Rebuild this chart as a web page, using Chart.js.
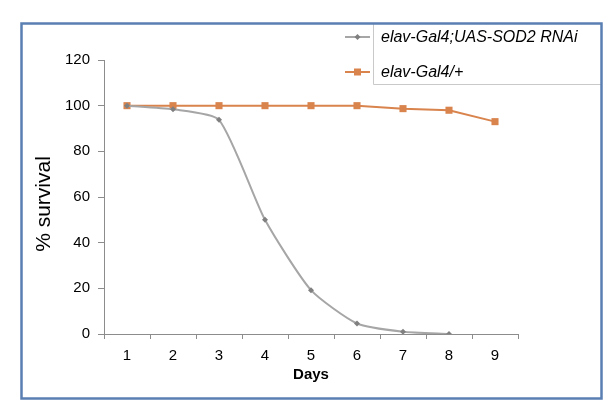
<!DOCTYPE html>
<html>
<head>
<meta charset="utf-8">
<script src="https://cdn.jsdelivr.net/npm/chart.js@4"></script>
<style>
html,body{margin:0;padding:0;background:#fff;}
#wrap{width:616px;height:416px;}
</style>
</head>
<body>
<div id="wrap"><canvas id="c" width="616" height="416"></canvas></div>
<script>
const days = ['1','2','3','4','5','6','7','8','9'];
const rnaiLabel = 'elav-Gal4;UAS-SOD2 RNAi';
const ctrlLabel = 'elav-Gal4/+';
const yTitle = '% survival';
const xTitle = 'Days';
const rnaiSurvival = [100, 98.4, 93.8, 50, 19.2, 4.6, 1.0, 0, null];
const ctrlSurvival = [100, 100, 100, 100, 100, 100, 98.7, 98, 93];
const yMin = 0, yMax = 120, yStep = 20;

const FONT = '"Liberation Sans", Arial, sans-serif';

const framePlugin = {
  id: 'frame',
  afterDraw(chart) {
    const ctx = chart.ctx;
    ctx.save();
    // legend box
    ctx.strokeStyle = '#c9c9c9';
    ctx.lineWidth = 1;
    ctx.beginPath();
    ctx.moveTo(373.5, 23);
    ctx.lineTo(373.5, 84.5);
    ctx.lineTo(602, 84.5);
    ctx.stroke();
    // outer border
    ctx.strokeStyle = '#5a7fb3';
    ctx.lineWidth = 2.5;
    ctx.strokeRect(21.5, 23.5, 580, 375);
    // y-axis title
    const ya = chart.scales.y;
    ctx.save();
    ctx.translate(44, (ya.top + ya.bottom) / 2 + 7);
    ctx.rotate(-Math.PI / 2);
    ctx.fillStyle = '#000';
    ctx.font = '21px ' + FONT;
    ctx.textAlign = 'center';
    ctx.textBaseline = 'middle';
    ctx.fillText(yTitle, 0, 0);
    ctx.restore();
    // legend entries
    const entries = [
      {ds: chart.data.datasets[0], y: 37},
      {ds: chart.data.datasets[1], y: 72}
    ];
    entries.forEach(e => {
      ctx.strokeStyle = e.ds.borderColor;
      ctx.lineWidth = 2;
      ctx.beginPath();
      ctx.moveTo(345, e.y);
      ctx.lineTo(370, e.y);
      ctx.stroke();
      ctx.fillStyle = e.ds.pointBackgroundColor;
      if (e.ds.pointStyle === 'rect') {
        ctx.fillRect(354, e.y - 3.5, 7, 7);
      } else {
        ctx.beginPath();
        ctx.moveTo(357.5, e.y - 3);
        ctx.lineTo(360.5, e.y);
        ctx.lineTo(357.5, e.y + 3);
        ctx.lineTo(354.5, e.y);
        ctx.closePath();
        ctx.fill();
      }
      ctx.fillStyle = '#000';
      ctx.font = 'italic 16px ' + FONT;
      ctx.textAlign = 'left';
      ctx.textBaseline = 'middle';
      ctx.fillText(e.ds.label, 381, e.y + 1);
    });
    ctx.restore();
  }
};

new Chart(document.getElementById('c'), {
  type: 'line',
  data: {
    labels: days,
    datasets: [
      {
        label: rnaiLabel,
        data: rnaiSurvival,
        borderColor: '#a6a6a6',
        borderWidth: 2,
        tension: 0.2,
        pointStyle: 'rectRot',
        pointRadius: 3,
        pointBackgroundColor: '#808080',
        pointBorderColor: '#808080',
        pointBorderWidth: 0,
        spanGaps: false
      },
      {
        label: ctrlLabel,
        data: ctrlSurvival,
        borderColor: '#d9834d',
        borderWidth: 2,
        tension: 0,
        pointStyle: 'rect',
        pointRadius: 5,
        pointBackgroundColor: '#d9834d',
        pointBorderColor: '#d9834d',
        pointBorderWidth: 0
      }
    ]
  },
  options: {
    responsive: false,
    animation: false,
    devicePixelRatio: 1,
    layout: { padding: { left: 22, right: 98, top: 60, bottom: 32 } },
    plugins: { legend: { display: false }, tooltip: { enabled: false } },
    scales: {
      x: {
        type: 'category',
        offset: true,
        afterFit(s) { s.height = 50; },
        grid: { offset: true, drawOnChartArea: false, drawTicks: true, tickLength: 5, color: '#8c8c8c' },
        border: { color: '#8c8c8c', width: 1 },
        ticks: { color: '#000', font: { family: FONT, size: 15 }, padding: 8, maxRotation: 0 },
        title: { display: true, text: xTitle, color: '#000', font: { family: FONT, size: 15, weight: 'bold' }, padding: { top: 0, bottom: 0 } }
      },
      y: {
        min: yMin,
        max: yMax,
        afterFit(s) { s.width = 82; },
        grid: { drawOnChartArea: false, drawTicks: true, tickLength: 6, color: '#8c8c8c' },
        border: { color: '#8c8c8c', width: 1 },
        ticks: { stepSize: yStep, color: '#000', font: { family: FONT, size: 15 }, padding: 8 },
        title: { display: false }
      }
    }
  },
  plugins: [framePlugin]
});
</script>
</body>
</html>
